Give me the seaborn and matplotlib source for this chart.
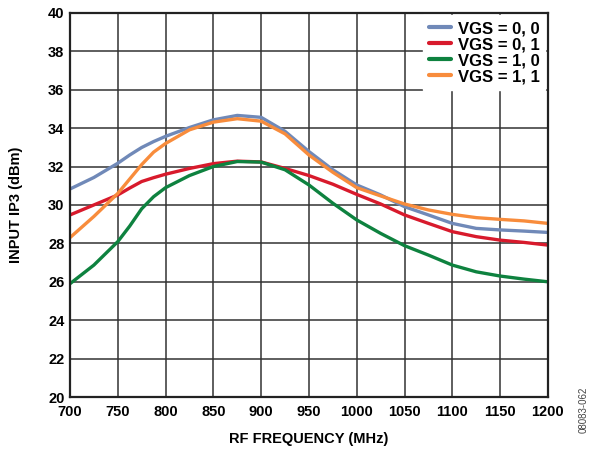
# Input IP3 vs RF frequency for the four VGS settings
import numpy as np
import pandas as pd
import seaborn as sns
import matplotlib.pyplot as plt

freq = [700, 725, 750, 762.5, 775, 787.5, 800, 825, 850, 875, 900, 925, 950, 975,
        1000, 1025, 1050, 1075, 1100, 1125, 1150, 1175, 1200]

ip3_00 = [30.83, 31.43, 32.17, 32.6, 32.99, 33.3, 33.57, 34.03, 34.43, 34.66, 34.56, 33.83,
          32.78, 31.83, 31.04, 30.52, 29.91, 29.48, 29.04, 28.78, 28.7, 28.64, 28.57]
ip3_01 = [29.48, 30.0, 30.52, 30.88, 31.22, 31.42, 31.6, 31.9, 32.15, 32.28, 32.24, 31.9,
          31.53, 31.08, 30.55, 30.05, 29.48, 29.04, 28.61, 28.35, 28.17, 28.05, 27.91]
ip3_10 = [25.9, 26.87, 28.09, 28.9, 29.8, 30.43, 30.9, 31.53, 32.0, 32.26, 32.23, 31.83,
          31.04, 30.09, 29.22, 28.52, 27.88, 27.39, 26.87, 26.52, 26.3, 26.14, 26.0]
ip3_11 = [28.3, 29.4, 30.6, 31.35, 32.1, 32.75, 33.2, 33.91, 34.31, 34.49, 34.36, 33.7,
          32.6, 31.7, 30.9, 30.47, 30.05, 29.74, 29.51, 29.34, 29.25, 29.17, 29.04]

labels = ["VGS = 0, 0", "VGS = 0, 1", "VGS = 1, 0", "VGS = 1, 1"]
colors = ["#7089B8", "#D81A2C", "#0E823F", "#F88C3C"]

frames = []
for lab, vals in zip(labels, [ip3_00, ip3_01, ip3_10, ip3_11]):
    frames.append(pd.DataFrame({"freq": freq, "ip3": vals, "setting": lab}))
df = pd.concat(frames)

sns.set_style("white")
plt.rcParams["font.family"] = ["Liberation Sans", "DejaVu Sans"]
plt.rcParams["text.color"] = "black"
plt.rcParams["axes.labelcolor"] = "black"
plt.rcParams["xtick.color"] = "black"
plt.rcParams["ytick.color"] = "black"

fig = plt.figure(figsize=(5.93, 4.58), dpi=100)
ax = fig.add_axes([0.118, 0.133, 0.806, 0.839])

sns.lineplot(data=df, x="freq", y="ip3", hue="setting", palette=colors,
             linewidth=2.4, ax=ax, solid_joinstyle="round")

ax.set_xlim(700, 1200)
ax.set_ylim(20, 40)
ax.set_xticks(np.arange(700, 1201, 50))
ax.set_yticks(np.arange(20, 41, 2))
ax.grid(True, color="#333333", linewidth=1.1)
ax.set_axisbelow(True)
for s in ax.spines.values():
    s.set_color("#222222")
    s.set_linewidth(1.6)
ax.tick_params(axis="x", length=0, pad=6, labelsize=10.5)
ax.tick_params(axis="y", length=0, pad=4, labelsize=10.5)
for t in ax.get_xticklabels() + ax.get_yticklabels():
    t.set_fontweight("bold")

ax.set_xlabel("RF FREQUENCY (MHz)", fontsize=10.5, fontweight="bold", labelpad=9)
ax.set_ylabel("INPUT IP3 (dBm)", fontsize=10.5, fontweight="bold", labelpad=18)

leg = ax.legend(loc="upper right", bbox_to_anchor=(1.0, 1.0), borderaxespad=0.15,
                frameon=True, fancybox=False, framealpha=1, edgecolor="white",
                handlelength=1.35, handletextpad=0.4, labelspacing=0.06,
                borderpad=0.35, prop={"weight": "bold", "size": 12})
for h in leg.get_lines():
    h.set_linewidth(3)

fig.text(0.985, 0.105, "08083-062", rotation=90, fontsize=7, color="#444444",
         ha="center", va="center")

fig.savefig("out.png", dpi=100)
